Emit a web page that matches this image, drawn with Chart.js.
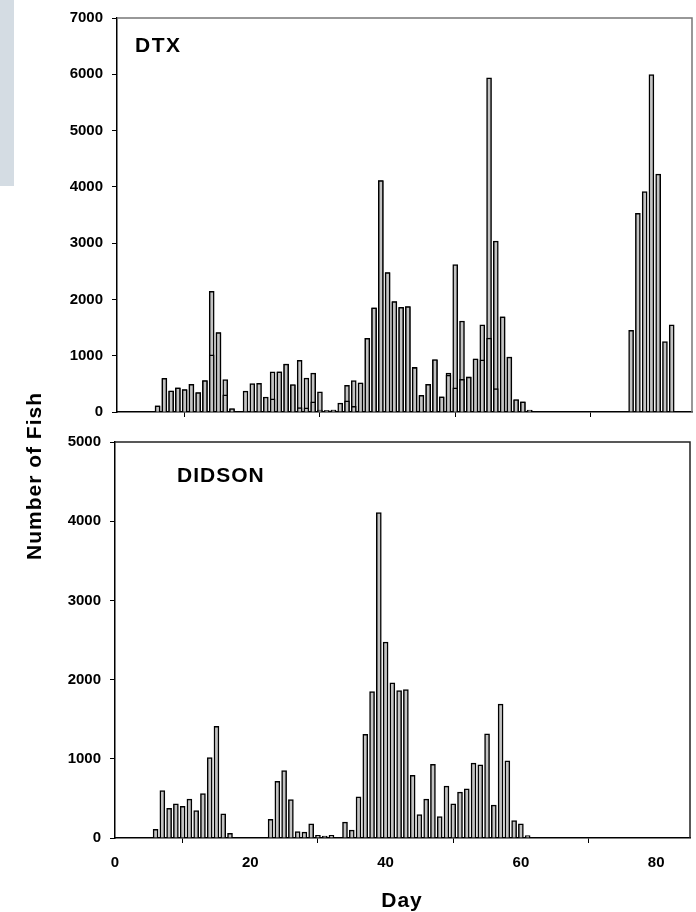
<!DOCTYPE html>
<html>
<head>
<meta charset="utf-8">
<script src="https://cdn.jsdelivr.net/npm/chart.js@4.4.0/dist/chart.umd.min.js"></script>
<style>
  body { margin: 0; background: #fff; }
  #wrap { position: relative; width: 696px; height: 912px; overflow: hidden; font-family: "Liberation Sans", Arial, sans-serif; }
  canvas { position: absolute; left: 0; }
  .side { position: absolute; left: 0; top: 0; width: 14px; height: 186px; background: #d4dce3; }
  .ytitle { position: absolute; left: 34px; top: 476px; transform: translate(-50%, -50%) rotate(-90deg); font-weight: bold; font-size: 21px; letter-spacing: 1px; white-space: nowrap; }
  .xtitle { position: absolute; left: 402px; top: 900px; transform: translate(-50%, -50%); font-weight: bold; font-size: 21px; letter-spacing: 1px; }
</style>
</head>
<body>
<div id="wrap">
  <div class="side"></div>
  <canvas id="topChart" width="696" height="430" style="top:0"></canvas>
  <canvas id="bottomChart" width="696" height="488" style="top:424px"></canvas>
  <div class="ytitle">Number of Fish</div>
  <div class="xtitle">Day</div>
</div>
<script>
// days sampled
var days = [6, 7, 8, 9, 10, 11, 12, 13, 14, 15, 16, 17, 18, 19, 20, 21, 22, 23, 24, 25,
    26, 27, 28, 29, 30, 31, 32, 33, 34, 35, 36, 37, 38, 39, 40, 41, 42, 43, 44, 45,
    46, 47, 48, 49, 50, 51, 52, 53, 54, 55, 56, 57, 58, 59, 60, 61, 62, 63, 64, 65,
    66, 67, 68, 69, 70, 71, 72, 73, 74, 75, 76, 77, 78, 79, 80, 81, 82];

// DTX counts
var dtx = [110, 595, 370, 430, 400, 490, 345, 560, 2145, 1410, 574, 58, 0, 371, 504, 510, 266, 713, 715, 850,
    482, 918, 602, 690, 358, 25, 35, 158, 475, 560, 515, 1310, 1850, 4110, 2475, 1962, 1855, 1875, 792, 292,
    490, 928, 268, 690, 2620, 1617, 625, 942, 1548, 5936, 3037, 1690, 977, 217, 180, 33, 0, 0, 0, 0,
    0, 0, 0, 0, 0, 0, 0, 0, 0, 0, 1449, 3530, 3918, 5993, 4226, 1252, 1548];

// DIDSON counts
var didson = [110, 600, 375, 430, 400, 490, 345, 560, 1015, 1410, 305, 60, 0, 0, 0, 0, 0, 235, 715, 850,
    485, 80, 75, 180, 35, 25, 35, 0, 200, 100, 520, 1310, 1850, 4110, 2475, 1960, 1860, 1875, 790, 295,
    490, 930, 270, 655, 430, 580, 620, 945, 925, 1315, 415, 1690, 975, 220, 180, 30, 0, 0, 0, 0,
    0, 0, 0, 0, 0, 0, 0, 0, 0, 0, 0, 0, 0, 0, 0, 0, 0];

var xTicks = [0, 20, 40, 60, 80];

var FONT = '"Liberation Sans", Arial, sans-serif';

function pts(vals) {
    return days.map(function (d, i) { return { x: d, y: vals[i] }; });
}

function barSet(label, vals, order) {
    return {
        label: label,
        data: pts(vals),
        order: order,
        backgroundColor: '#c3c3c3',
        borderColor: '#000',
        borderWidth: 1.5,
        borderSkipped: 'start',
        barThickness: 5,
        grouped: false
    };
}

// frame lines and panel label
var panelDeco = {
    id: 'panelDeco',
    afterDraw: function (chart, args, opts) {
        var ctx = chart.ctx, a = chart.chartArea;
        ctx.save();
        ctx.strokeStyle = opts.frameColor;
        ctx.lineWidth = 1.5;
        ctx.beginPath();
        ctx.moveTo(a.left, a.top);
        ctx.lineTo(a.right, a.top);
        ctx.lineTo(a.right, a.bottom);
        ctx.stroke();
        ctx.fillStyle = '#000';
        ctx.font = 'bold ' + opts.size + 'px ' + FONT;
        ctx.letterSpacing = opts.spacing;
        ctx.textBaseline = 'alphabetic';
        ctx.fillText(opts.text, opts.x, opts.y);
        ctx.restore();
    }
};

function makeChart(id, datasets, cfg) {
    return new Chart(document.getElementById(id), {
        type: 'bar',
        data: { datasets: datasets },
        plugins: [panelDeco],
        options: {
            responsive: false,
            animation: false,
            devicePixelRatio: 1,
            layout: { padding: { top: cfg.padTop, right: cfg.padRight, left: 0, bottom: 0 } },
            plugins: {
                legend: { display: false },
                tooltip: { enabled: false },
                panelDeco: cfg.deco
            },
            scales: {
                x: {
                    type: 'linear',
                    min: 0,
                    max: 85,
                    offset: false,
                    afterBuildTicks: function (s) {
                        s.ticks = xTicks.map(function (v) { return { value: v }; });
                    },
                    afterFit: function (s) { s.height = cfg.xHeight; },
                    grid: { drawOnChartArea: false, color: '#000', tickLength: 5, lineWidth: 1 },
                    border: { color: '#000', width: 1.5 },
                    ticks: {
                        display: cfg.xLabels,
                        color: '#000',
                        padding: 11,
                        maxRotation: 0,
                        font: { family: FONT, size: 15, weight: 'bold' },
                        callback: function (v) { return String(v); }
                    }
                },
                y: {
                    min: 0,
                    max: cfg.yMax,
                    afterFit: function (s) { s.width = cfg.yWidth; },
                    grid: { drawOnChartArea: false, color: '#000', tickLength: 5, lineWidth: 1 },
                    border: { color: '#000', width: 1.5 },
                    ticks: {
                        stepSize: 1000,
                        color: '#000',
                        padding: 9,
                        font: { family: FONT, size: 15, weight: 'bold' },
                        callback: function (v) { return String(v); }
                    }
                }
            }
        }
    });
}

// top panel: DTX with DIDSON overlaid
makeChart('topChart', [barSet('DIDSON', didson, 0), barSet('DTX', dtx, 1)], {
    padTop: 16, padRight: 4, xHeight: 12, yWidth: 117, yMax: 7000, xLabels: false,
    deco: { frameColor: '#777', text: 'DTX', size: 21, spacing: '1.5px', x: 135, y: 52 }
});

// bottom panel: DIDSON
makeChart('bottomChart', [barSet('DIDSON', didson, 0)], {
    padTop: 12, padRight: 6, xHeight: 74, yWidth: 115, yMax: 5000, xLabels: true,
    deco: { frameColor: '#222', text: 'DIDSON', size: 21, spacing: '1px', x: 177, y: 58 }
});
</script>
</body>
</html>
